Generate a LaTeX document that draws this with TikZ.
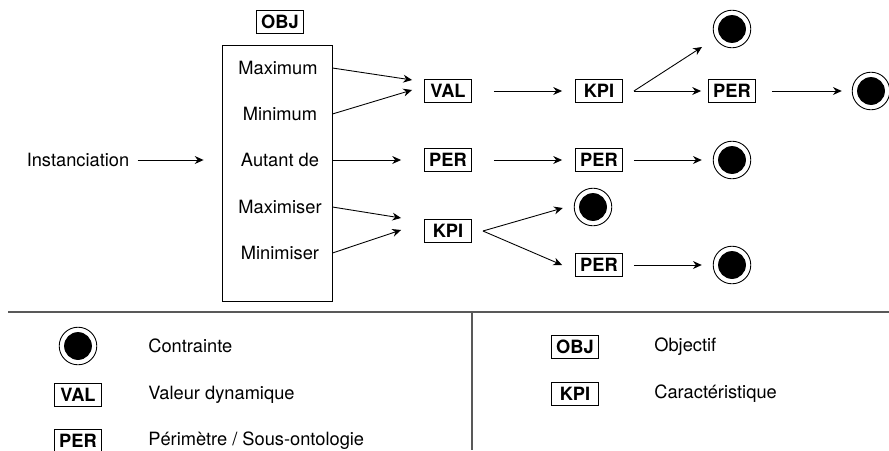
\documentclass[tikz,border=0pt]{standalone}
\usepackage{fontspec}
\setmainfont{TeX Gyre Heros}
\usetikzlibrary{arrows.meta, positioning, calc}
\newcommand\diagsize{\fontsize{10.4}{12.5}\selectfont}

\begin{document}
\begin{tikzpicture}[
    x=0.02cm, y=-0.02cm,
    every node/.style={font=\diagsize},
    txt/.style={inner sep=0pt},
    lbl/.style={draw, line width=0.5pt, fill=white, minimum width=0.94cm, minimum height=0.46cm, inner sep=1pt, font=\diagsize\bfseries},
    ct/.style={circle, draw, line width=0.5pt, minimum size=0.752cm, inner sep=0pt,
      path picture={\fill (path picture bounding box.center) circle (0.278cm);}},
    a/.style={-{Stealth[length=5pt, width=4.5pt]}, line width=0.5pt},
    sep/.style={draw=black!65, line width=0.6pt}
]
\useasboundingbox (0,0) rectangle (889,450);

% objective block
\node[lbl] (objl) at (280,22) {OBJ};
\node[draw, line width=0.5pt, minimum width=2.2cm, minimum height=5.12cm] (frame) at (277,173) {};
\node[txt] (maxm) at (278,68)  {Maximum};
\node[txt] (minm) at (280,114) {Minimum};
\node[txt] (aut)  at (280,160) {Autant de};
\node[txt] (maxs) at (280,207) {Maximiser};
\node[txt] (mins) at (280,253) {Minimiser};
\node[txt] (inst) at (78,160)  {Instanciation};
\draw[a] ($(inst.east)+(8,0)$) -- ($(inst -| frame.west)+(-18,0)$);

% row 1
\node[lbl] (val)  at (448,91) {VAL};
\node[lbl] (kpiA) at (599,91) {KPI};
\node[ct]  (ctA)  at (732,29) {};
\node[lbl] (perA) at (732,91) {PER};
\node[ct]  (ctB)  at (871,91) {};
\draw[a] (maxm -| frame.east) -- ($(val.west)+(-12,-11)$);
\draw[a] (minm -| frame.east) -- ($(val.west)+(-12,-1)$);
\draw[a] ($(val.east)+(22,0)$) -- ($(kpiA.west)+(-13,0)$);
\draw[a] ($(kpiA.east)+(11,0)$) -- ($(ctA)+(-30,18)$);
\draw[a] ($(kpiA.east)+(11,0)$) -- ($(perA.west)+(-7,0)$);
\draw[a] ($(perA.east)+(16,0)$) -- ($(ctB.west)+(-10,0)$);

% row 2
\node[lbl] (perB) at (448,160) {PER};
\node[lbl] (perC) at (599,160) {PER};
\node[ct]  (ctC)  at (732,160) {};
\draw[a] (aut -| frame.east) -- ($(perB.west)+(-23,0)$);
\draw[a] ($(perB.east)+(22,0)$) -- ($(perC.west)+(-13,0)$);
\draw[a] ($(perC.east)+(11,0)$) -- ($(ctC.west)+(-11,0)$);

% row 3
\node[lbl] (kpiB) at (448,231) {KPI};
\node[ct]  (ctD)  at (593,207) {};
\node[lbl] (perD) at (599,265) {PER};
\node[ct]  (ctE)  at (732,265) {};
\draw[a] (maxs -| frame.east) -- ($(kpiB.west)+(-23,-13)$);
\draw[a] (mins -| frame.east) -- ($(kpiB.west)+(-23,-1)$);
\draw[a] ($(kpiB.east)+(11,0)$) -- ($(ctD.west)+(-11,1)$);
\draw[a] ($(kpiB.east)+(11,0)$) -- ($(perD.west)+(-13,0)$);
\draw[a] ($(perD.east)+(11,0)$) -- ($(ctE.west)+(-11,0)$);

% legend
\draw[sep] (8,312) -- (889,312);
\draw[sep] (472,312) -- (472,450);
\node[ct]  (ctL)  at (78,346) {};
\node[txt, anchor=west] (ctT) at (148,346) {Contrainte};
\node[lbl] (valL) at (78,395) {VAL};
\node[txt, anchor=west] (valT) at (148,395) {Valeur dynamique};
\node[lbl] (perL) at (78,441) {PER};
\node[txt, anchor=west] (perT) at (148,441) {Périmètre / Sous-ontologie};
\node[lbl] (objL) at (575,347) {OBJ};
\node[txt, anchor=west] (objT) at (654,347) {Objectif};
\node[lbl] (kpiL) at (575,394) {KPI};
\node[txt, anchor=west] (kpiT) at (654,394) {Caractéristique};
\end{tikzpicture}
\end{document}
